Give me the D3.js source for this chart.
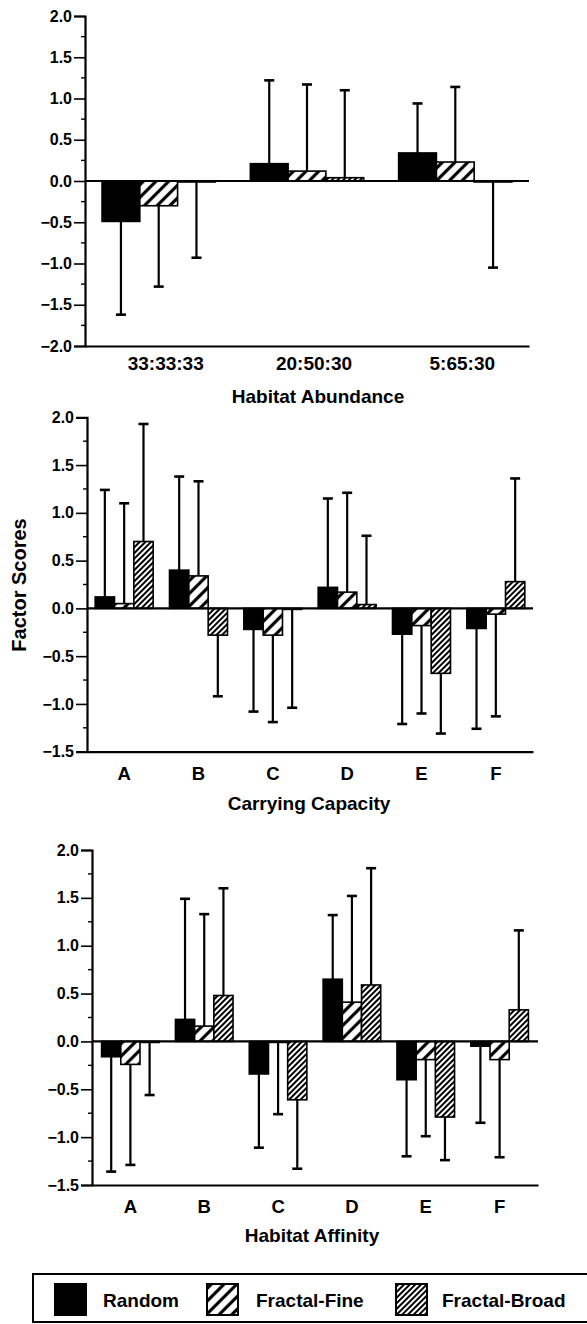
<!DOCTYPE html>
<html>
<head>
<meta charset="utf-8">
<script src="https://cdn.jsdelivr.net/npm/d3@7"></script>
<style>
  html, body { margin: 0; padding: 0; background: #fff; }
  svg { display: block; }
  text { font-family: "Liberation Sans", Arial, Helvetica, sans-serif; font-weight: bold; fill: #000; }
</style>
</head>
<body>
<script>
// ---------------- DATA ----------------
const seriesNames = ["Random", "Fractal-Fine", "Fractal-Broad"];

// Panel 1: Habitat Abundance
const abundanceCats = ["33:33:33", "20:50:30", "5:65:30"];
const abundanceRandom = [-0.49, 0.21, 0.34];
const abundanceRandomSD = [1.13, 1.01, 0.60];
const abundanceFine = [-0.30, 0.12, 0.23];
const abundanceFineSD = [0.98, 1.05, 0.91];
const abundanceBroad = [-0.01, 0.04, -0.01];
const abundanceBroadSD = [0.92, 1.06, 1.04];
const abundanceTicks = [2.0, 1.5, 1.0, 0.5, 0.0, -0.5, -1.0, -1.5, -2.0];

// Panel 2: Carrying Capacity
const capacityCats = ["A", "B", "C", "D", "E", "F"];
const capacityRandom = [0.12, 0.40, -0.22, 0.22, -0.27, -0.21];
const capacityRandomSD = [1.12, 0.98, 0.86, 0.93, 0.94, 1.05];
const capacityFine = [0.05, 0.34, -0.28, 0.17, -0.18, -0.06];
const capacityFineSD = [1.05, 0.99, 0.91, 1.04, 0.92, 1.07];
const capacityBroad = [0.70, -0.28, -0.01, 0.04, -0.68, 0.28];
const capacityBroadSD = [1.23, 0.64, 1.03, 0.72, 0.63, 1.08];
const capacityTicks = [2.0, 1.5, 1.0, 0.5, 0.0, -0.5, -1.0, -1.5];

// Panel 3: Habitat Affinity
const affinityCats = ["A", "B", "C", "D", "E", "F"];
const affinityRandom = [-0.16, 0.23, -0.34, 0.65, -0.40, -0.05];
const affinityRandomSD = [1.20, 1.26, 0.77, 0.67, 0.80, 0.80];
const affinityFine = [-0.24, 0.16, -0.01, 0.41, -0.19, -0.19];
const affinityFineSD = [1.05, 1.17, 0.75, 1.11, 0.80, 1.02];
const affinityBroad = [-0.01, 0.48, -0.61, 0.59, -0.79, 0.33];
const affinityBroadSD = [0.55, 1.12, 0.72, 1.22, 0.45, 0.83];
const affinityTicks = [2.0, 1.5, 1.0, 0.5, 0.0, -0.5, -1.0, -1.5];

const yLabel = "Factor Scores";

// ---------------- LAYOUT ----------------
const W = 587, H = 1324;
const svg = d3.select("body").append("svg").attr("width", W).attr("height", H);
svg.append("rect").attr("width", W).attr("height", H).attr("fill", "#fff");

const defs = svg.append("defs");
const pFine = defs.append("pattern").attr("id", "hatchFine")
  .attr("patternUnits", "userSpaceOnUse").attr("width", 9).attr("height", 9)
  .attr("patternTransform", "rotate(45)");
pFine.append("rect").attr("width", 9).attr("height", 9).attr("fill", "#fff");
pFine.append("line").attr("x1", 4.5).attr("x2", 4.5).attr("y1", 0).attr("y2", 9)
  .attr("stroke", "#000").attr("stroke-width", 3.2);
const pBroad = defs.append("pattern").attr("id", "hatchBroad")
  .attr("patternUnits", "userSpaceOnUse").attr("width", 4).attr("height", 4)
  .attr("patternTransform", "rotate(45)");
pBroad.append("rect").attr("width", 4).attr("height", 4).attr("fill", "#fff");
pBroad.append("line").attr("x1", 2).attr("x2", 2).attr("y1", 0).attr("y2", 4)
  .attr("stroke", "#000").attr("stroke-width", 2);

const fills = ["#000", "url(#hatchFine)", "url(#hatchBroad)"];

function panel(cfg) {
  const { cats, means, sds, ticks, domain, x0, x1, yTopPx, yBotPx,
          padInner, padOuter, catY, catSize, catDx, title, titleX, titleY } = cfg;
  const g = svg.append("g");
  const y = d3.scaleLinear().domain(domain).range([yBotPx, yTopPx]);
  const x = d3.scaleBand().domain(cats).range([x0, x1])
    .paddingInner(padInner).paddingOuter(padOuter);
  const xs = d3.scaleBand().domain(seriesNames).range([0, x.bandwidth()]);

  const rows = [];
  cats.forEach((c, i) => {
    seriesNames.forEach((s, j) => {
      rows.push({ cat: c, series: s, j, v: means[j][i], sd: sds[j][i] });
    });
  });

  // error bars (drawn first, bars on top)
  const eb = g.append("g");
  rows.forEach(d => {
    const cx = x(d.cat) + xs(d.series) + xs.bandwidth() / 2;
    const end = d.v >= 0 ? d.v + d.sd : d.v - d.sd;
    eb.append("line").attr("x1", cx).attr("x2", cx)
      .attr("y1", y(d.v)).attr("y2", y(end))
      .attr("stroke", "#000").attr("stroke-width", 2.2);
    eb.append("line").attr("x1", cx - 5).attr("x2", cx + 5)
      .attr("y1", y(end)).attr("y2", y(end))
      .attr("stroke", "#000").attr("stroke-width", 2.6);
  });

  // bars
  g.append("g").selectAll("rect").data(rows).join("rect")
    .attr("x", d => x(d.cat) + xs(d.series))
    .attr("width", xs.bandwidth())
    .attr("y", d => y(Math.max(0, d.v)))
    .attr("height", d => Math.max(1, Math.abs(y(d.v) - y(0))))
    .attr("fill", d => fills[d.j])
    .attr("stroke", "#000").attr("stroke-width", 1.6);

  // zero line
  g.append("line").attr("x1", x0).attr("x2", x1).attr("y1", y(0)).attr("y2", y(0))
    .attr("stroke", "#000").attr("stroke-width", 2.2);

  // y axis
  const minor = d3.range(domain[0], domain[1] + 0.001, 0.25);
  const yAxis = d3.axisLeft(y).tickValues(ticks).tickFormat(d3.format(".1f"))
    .tickSize(11).tickPadding(2);
  const ga = g.append("g").attr("transform", `translate(${x0},0)`).call(yAxis);
  ga.select(".domain").attr("stroke", "#000").attr("stroke-width", 2.2);
  ga.selectAll(".tick line").attr("stroke", "#000").attr("stroke-width", 1.6);
  ga.selectAll(".tick text").attr("font-size", 16).attr("font-weight", "bold")
    .attr("font-family", "'Liberation Sans', Arial, sans-serif").attr("fill", "#000");
  ga.selectAll(".minor").data(minor.filter(v => !ticks.some(t => Math.abs(t - v) < 1e-6)))
    .join("line").attr("class", "minor")
    .attr("x1", -4).attr("x2", 0).attr("y1", d => y(d)).attr("y2", d => y(d))
    .attr("stroke", "#000").attr("stroke-width", 1.4);

  // x axis (bottom)
  const xAxis = d3.axisBottom(x).tickSize(0).tickPadding(0);
  const gx = g.append("g").attr("transform", `translate(0,${y(domain[0])})`).call(xAxis);
  gx.select(".domain").attr("stroke", "#000").attr("stroke-width", 2.2);
  gx.selectAll(".tick text")
    .attr("y", catY - y(domain[0])).attr("dy", 0).attr("dx", catDx)
    .attr("font-size", catSize).attr("font-weight", "bold")
    .attr("font-family", "'Liberation Sans', Arial, sans-serif").attr("fill", "#000");

  g.append("text").attr("x", titleX).attr("y", titleY)
    .attr("text-anchor", "middle").attr("font-size", 19).text(title);
}

panel({
  cats: abundanceCats,
  means: [abundanceRandom, abundanceFine, abundanceBroad],
  sds: [abundanceRandomSD, abundanceFineSD, abundanceBroadSD],
  ticks: abundanceTicks, domain: [-2, 2],
  x0: 85, x1: 529, yTopPx: 16, yBotPx: 346,
  padInner: 0.236, padOuter: 0.115,
  catY: 370, catSize: 19, catDx: 7,
  title: "Habitat Abundance", titleX: 318, titleY: 403
});

panel({
  cats: capacityCats,
  means: [capacityRandom, capacityFine, capacityBroad],
  sds: [capacityRandomSD, capacityFineSD, capacityBroadSD],
  ticks: capacityTicks, domain: [-1.5, 2],
  x0: 87, x1: 533, yTopPx: 417.3, yBotPx: 751.7,
  padInner: 0.22, padOuter: 0.11,
  catY: 780, catSize: 18.5, catDx: 0,
  title: "Carrying Capacity", titleX: 309, titleY: 810
});

panel({
  cats: affinityCats,
  means: [affinityRandom, affinityFine, affinityBroad],
  sds: [affinityRandomSD, affinityFineSD, affinityBroadSD],
  ticks: affinityTicks, domain: [-1.5, 2],
  x0: 92, x1: 538, yTopPx: 850, yBotPx: 1185,
  padInner: 0.22, padOuter: 0.13,
  catY: 1213, catSize: 18.5, catDx: 0,
  title: "Habitat Affinity", titleX: 312, titleY: 1242
});

// y-axis label
svg.append("text").attr("transform", "translate(19,585) rotate(-90)")
  .attr("text-anchor", "middle").attr("dy", "0.35em").attr("font-size", 20).text(yLabel);

// legend
const lg = svg.append("g");
lg.append("rect").attr("x", 33).attr("y", 1274).attr("width", 580).attr("height", 48)
  .attr("fill", "none").attr("stroke", "#000").attr("stroke-width", 2);
const legendSwatchX = [55, 207, 396];
const legendTextX = [103, 256, 442];
seriesNames.forEach((s, j) => {
  lg.append("rect").attr("x", legendSwatchX[j]).attr("y", 1284).attr("width", 31).attr("height", 31)
    .attr("fill", fills[j]).attr("stroke", "#000").attr("stroke-width", 2);
  lg.append("text").attr("x", legendTextX[j]).attr("y", 1307).attr("font-size", 19).text(s);
});
</script>
</body>
</html>
